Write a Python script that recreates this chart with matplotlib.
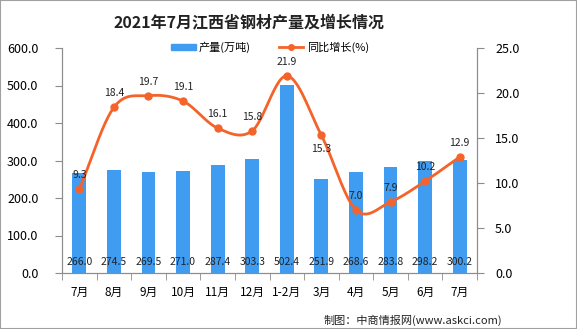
import numpy as np
import matplotlib
matplotlib.use("Agg")
import matplotlib.pyplot as plt
from matplotlib.lines import Line2D
from matplotlib.patches import Patch, Rectangle

plt.rcParams['font.family'] = ['Noto Sans CJK SC', 'DejaVu Sans']

categories = ["7月", "8月", "9月", "10月", "11月", "12月", "1-2月", "3月", "4月", "5月", "6月", "7月"]
production = [266.0, 274.5, 269.5, 271.0, 287.4, 303.3, 502.4, 251.9, 268.6, 283.8, 298.2, 300.2]
growth = [9.3, 18.4, 19.7, 19.1, 16.1, 15.8, 21.9, 15.3, 7.0, 7.9, 10.2, 12.9]
left_ticks = [0, 100, 200, 300, 400, 500, 600]
right_ticks = [0, 5, 10, 15, 20, 25]

BLUE = "#3F9CF0"
ORANGE = "#F4642A"
GRAY = "#8C8C8C"

fig = plt.figure(figsize=(5.77, 3.29), dpi=100)
ax = fig.add_axes([62/577, 1-273/329, (477-62)/577, (273-48)/329])
ax2 = ax.twinx()

x = np.arange(len(categories))
ax.bar(x, production, width=0.4, color=BLUE, zorder=2)
for xi, v in zip(x, production):
    ax.annotate(f"{v:.1f}", (xi, 0), xytext=(0, 11*72/100), textcoords="offset points",
                ha="center", va="center", fontsize=7.5, color="#222222", zorder=5)

ax.set_xlim(-0.5, len(categories) - 0.5)
ax.set_ylim(0, 600)
ax2.set_ylim(0, 25)
ax.set_yticks(left_ticks)
ax.set_yticklabels([f"{t:.1f}" for t in left_ticks], fontsize=9)
ax2.set_yticks(right_ticks)
ax2.set_yticklabels([f"{t:.1f}" for t in right_ticks], fontsize=9)
ax.set_xticks(x)
ax.set_xticklabels(categories, fontsize=8.5)
ax.set_xticks(np.arange(-0.5, len(categories), 1), minor=True)
ax.tick_params(axis='x', which='major', length=0, pad=9)
ax.tick_params(axis='x', which='minor', length=5, color=GRAY)
ax.tick_params(axis='y', length=5, color=GRAY, pad=12)
ax2.tick_params(axis='y', length=5, color=GRAY, pad=8)

for a in (ax, ax2):
    a.spines['top'].set_visible(False)
    for s in ('left', 'right', 'bottom'):
        a.spines[s].set_color(GRAY)

# smooth curve (Catmull-Rom) through the data points
def catmull(xs, ys, n=30):
    xs = np.asarray(xs, float); ys = np.asarray(ys, float)
    px = np.concatenate([[2*xs[0]-xs[1]], xs, [2*xs[-1]-xs[-2]]])
    py = np.concatenate([[2*ys[0]-ys[1]], ys, [2*ys[-1]-ys[-2]]])
    ox, oy = [], []
    for i in range(1, len(px)-2):
        t = np.linspace(0, 1, n, endpoint=False)
        for arr, out in ((px, ox), (py, oy)):
            p0, p1, p2, p3 = arr[i-1], arr[i], arr[i+1], arr[i+2]
            out.extend(0.5*((2*p1) + (-p0+p2)*t + (2*p0-5*p1+4*p2-p3)*t**2 + (-p0+3*p1-3*p2+p3)*t**3))
    ox.append(xs[-1]); oy.append(ys[-1])
    return np.array(ox), np.array(oy)

sx, sy = catmull(x, growth)
ax2.plot(sx, sy, color=ORANGE, lw=2, zorder=3)
ax2.plot(x, growth, 'o', color=ORANGE, ms=5, zorder=4)
for i, (xi, v) in enumerate(zip(x, growth)):
    dy = -14 if i == 7 else 14
    ax2.annotate(f"{v:.1f}", (xi, v), xytext=(0, dy*72/100), textcoords="offset points",
                 ha="center", va="center", fontsize=7.5, color="#222222", zorder=5)

ax2.patch.set_visible(False)

fig.text(249/577, 1-22/329, "2021年7月江西省钢材产量及增长情况", ha="center", va="center",
         fontsize=11.5, fontweight="bold", color="#222222")

handles = [Patch(color=BLUE), Line2D([0], [0], color=ORANGE, lw=2, marker='o', ms=4)]
fig.legend(handles, ["产量(万吨)", "同比增长(%)"], loc="center", bbox_to_anchor=(270/577, 1-47/329),
           ncol=2, frameon=False, fontsize=8, handlelength=2.2, handleheight=0.5,
           columnspacing=2.5, handletextpad=0.3)

fig.text(502/577, 1-320/329, "制图：中商情报网(www.askci.com)", ha="right", va="center",
         fontsize=8, color="#222222")

fig.patches.append(Rectangle((0, 0), 1, 1, transform=fig.transFigure, fill=False,
                             edgecolor="#A0A0A0", lw=1.5))

fig.savefig("out.png", dpi=100)
